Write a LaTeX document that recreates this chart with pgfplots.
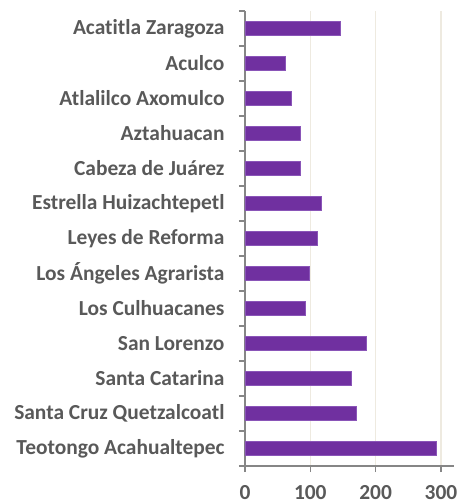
\documentclass[border=0pt]{standalone}
\usepackage{pgfplots}
\pgfplotsset{compat=1.18}
\usepackage{fontspec}
\setmainfont{Carlito}[Ligatures=NoCommon]
\definecolor{barc}{HTML}{7030A0}
\definecolor{baredge}{HTML}{8A55B8}
\definecolor{txt}{HTML}{595959}
\definecolor{gridc}{HTML}{EEEAE0}
\definecolor{axc}{HTML}{868686}
\begin{document}
\begin{tikzpicture}
\begin{axis}[
  scale only axis, width=209bp, height=455bp,
  xbar, bar width=0.4, y dir=reverse,
  xmin=0, xmax=320, ymin=-0.5, ymax=12.5,
  axis x line*=bottom, axis y line*=left,
  axis line style={draw=axc, line width=1.5bp},
  xtick={0,100,200,300},
  xticklabels={0,100,200,300},
  ytick={-0.5,0.5,...,12.5},
  yticklabels={},
  extra y ticks={0,...,12},
  extra y tick labels={Acatitla Zaragoza, Aculco, Atlalilco Axomulco, Aztahuacan, Cabeza de Juárez, Estrella Huizachtepetl, Leyes de Reforma, Los Ángeles Agrarista, Los Culhuacanes, San Lorenzo, Santa Catarina, Santa Cruz Quetzalcoatl, Teotongo Acahualtepec},
  extra y tick style={major tick length=0pt, yticklabel style={xshift=-17bp}},
  tick align=outside,
  major tick length=6bp,
  tick style={draw=axc, line width=1.3bp},
  xmajorgrids, grid style={draw=gridc, line width=1.2bp},
  ticklabel style={font=\bfseries\fontsize{21.5}{24}\selectfont, text=txt},
  xticklabel style={yshift=-10bp},
  clip=false,
]
\addplot[fill=barc, draw=baredge, line width=0.6bp] coordinates {
(146,0) (62,1) (71,2) (84,3) (85,4) (117,5) (110,6) (99,7) (93,8) (185,9) (163,10) (171,11) (293,12)
};
\coordinate (sw) at (axis description cs:0,0);
\coordinate (ne) at (axis description cs:1,1);
\end{axis}
\pgfresetboundingbox
\path ([xshift=-245bp,yshift=-38bp]sw) rectangle ([xshift=7bp,yshift=11bp]ne);
\end{tikzpicture}
\end{document}
